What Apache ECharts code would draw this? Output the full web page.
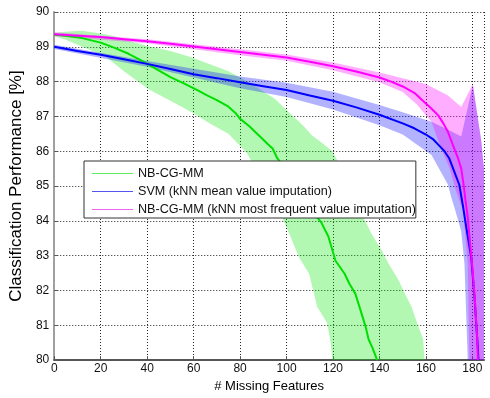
<!DOCTYPE html>
<html><head><meta charset="utf-8">
<script src="https://cdn.jsdelivr.net/npm/echarts@6/dist/echarts.min.js"></script>
<style>html,body{margin:0;padding:0;background:#fff}#c{width:490px;height:398px}</style>
</head><body><div id="c"></div>
<script>
// ---- data ----
var xTicks = [0, 20, 40, 60, 80, 100, 120, 140, 160, 180];
var yTicks = [80, 81, 82, 83, 84, 85, 86, 87, 88, 89, 90];
var seriesNames = ['NB-CG-MM', 'SVM (kNN mean value imputation)', 'NB-CG-MM (kNN most frequent value imputation)'];

var greenMean = [[0,89.35],[5,89.32],[12,89.25],[20,89.12],[26,88.97],[32,88.8],[38,88.59],[44,88.36],[50,88.13],[56,87.94],[62,87.74],[66,87.6],[70,87.47],[75,87.28],[78,87.1],[80,86.93],[84,86.72],[88,86.46],[92,86.2],[94,86.08],[96,85.8],[100,85.45],[105,84.95],[109,84.5],[112,84.2],[115,83.95],[118,83.55],[120,83.1],[121,82.86],[125,82.48],[127,82.2],[129.6,81.91],[132,81.4],[134,80.97],[135.3,80.6],[137,80.35],[139,80.0]];
var greenUpper = [[0,89.40],[6,89.44],[12,89.46],[20,89.38],[26,89.3],[33,89.15],[40,89.02],[50,88.88],[59,88.7],[67,88.5],[75,88.3],[81,88.08],[88,87.8],[95,87.5],[102.6,87.02],[107,86.75],[111,86.45],[116,86.2],[119.7,86.0],[123,85.6],[127,85.1],[131,84.66],[132.5,84.18],[136.8,83.6],[141,83.15],[144,82.76],[148.2,82.3],[151,81.9],[153.8,81.53],[156,81.1],[158.8,80.6],[159.4,80.0]];
var greenLower = [[0,89.30],[5,89.2],[12,89.0],[22,88.73],[30,88.3],[40.6,87.78],[50,87.45],[59,87.13],[67,86.8],[75,86.5],[83,85.94],[90,85.1],[97.6,84.18],[102,83.5],[105.4,82.95],[109.7,82.48],[113.2,81.53],[117.5,81.06],[119,80.5],[119.7,80.0]];

var blueMean = [[0,89.0],[10,88.88],[20,88.77],[30,88.64],[40,88.51],[50,88.36],[60,88.21],[70,88.1],[80,87.98],[90,87.87],[100,87.76],[110,87.6],[120,87.45],[130,87.26],[140,87.05],[150,86.8],[155,86.66],[160,86.48],[163,86.35],[166,86.14],[168,86.0],[170,85.8],[172,85.45],[174.4,85.03],[176,84.4],[177.4,83.8],[179.5,82.95],[180.9,81.82],[182.3,80.4],[182.6,80.0]];
var blueUpper = [[0,89.06],[40,88.59],[80,88.15],[100,87.97],[120,87.71],[140,87.33],[150,87.12],[162.4,86.85],[170,86.6],[175.2,86.42],[180.2,87.9],[183.8,86.3],[185,85.5],[185,80]];
var blueLower = [[0,88.94],[40,88.43],[80,87.81],[100,87.56],[120,87.2],[140,86.75],[150,86.48],[162.4,85.89],[169.5,85.04],[171,84.66],[172.3,84.38],[175.2,83.7],[176.6,82.75],[178,80.0]];

var pinkMean = [[0,89.36],[10,89.32],[20,89.28],[30,89.22],[40,89.16],[50,89.09],[60,89.01],[70,88.93],[80,88.85],[90,88.77],[100,88.69],[110,88.57],[120,88.44],[130,88.29],[140,88.12],[145,88.0],[150,87.86],[155,87.68],[159.5,87.4],[162,87.25],[165.3,87.03],[167.5,86.8],[169.5,86.55],[171.5,86.2],[173.8,85.8],[175.2,85.5],[176.3,85.0],[177,84.6],[178,84.1],[178.8,83.52],[180,82.65],[181,81.8],[182,80.7],[182.4,80.0]];
var pinkUpper = [[0,89.42],[40,89.22],[80,88.93],[100,88.78],[120,88.55],[140,88.26],[150,88.1],[160,87.93],[169.5,87.6],[175.2,87.27],[180.2,87.93],[183.8,86.3],[185,85.5],[185,80]];
var pinkLower = [[0,89.30],[40,89.10],[80,88.76],[100,88.6],[120,88.33],[140,87.98],[150,87.7],[156,87.35],[162.4,86.85],[166,86.17],[170.2,85.51],[173,84.85],[176,84.3],[178,82.76],[178.7,80]];

// ---- chart ----
var FONT = "'Liberation Sans', Arial, Helvetica, sans-serif";
var LEGEND_ICON = 'path://M0,0H40V1H0Z';
function band(upper, lower, fill) {
  return {
    type: 'custom', silent: true, clip: true, z: 1,
    data: [[upper[0][0], upper[0][1]]],
    renderItem: function (params, api) {
      var pts = [];
      upper.forEach(function (p) { pts.push(api.coord(p)); });
      lower.slice().reverse().forEach(function (p) { pts.push(api.coord(p)); });
      return { type: 'polygon', shape: { points: pts }, style: { fill: fill, stroke: null } };
    }
  };
}
function line(name, data, color) {
  return { type: 'line', name: name, data: data, showSymbol: false, symbol: 'none', z: 3,
    lineStyle: { color: color, width: 2 }, itemStyle: { color: color } };
}
var chart = echarts.init(document.getElementById('c'), null, { renderer: 'canvas' });
chart.setOption({
  animation: false,
  textStyle: { fontFamily: FONT },
  grid: { left: 50, top: 12, right: 6, bottom: 34 },
  xAxis: {
    type: 'value', min: 0, max: 185, interval: 20,
    name: '# Missing Features', nameLocation: 'middle', nameGap: 19,
    nameTextStyle: { fontSize: 13, color: '#000', fontFamily: FONT },
    axisLine: { onZero: false, lineStyle: { color: '#555', width: 2 } },
    axisTick: { inside: true, length: 4, lineStyle: { color: '#555' } },
    axisLabel: { margin: 3, fontSize: 12, color: '#111', fontFamily: FONT, showMaxLabel: false,
      formatter: function (v) { return xTicks.indexOf(v) >= 0 ? String(v) : ''; } },
    splitLine: { show: true, lineStyle: { color: '#222', type: [1, 2], width: 1 } }
  },
  yAxis: {
    type: 'value', min: yTicks[0], max: yTicks[yTicks.length - 1], interval: 1,
    name: 'Classification Performance [%]', nameLocation: 'middle', nameGap: 24, nameRotate: 90,
    nameTextStyle: { fontSize: 17, color: '#000', fontFamily: FONT },
    axisLine: { show: true, lineStyle: { color: '#a0a0a0', width: 2 } },
    axisTick: { show: true, inside: true, length: 4, lineStyle: { color: '#555' } },
    axisLabel: { margin: 5, fontSize: 12, color: '#111', fontFamily: FONT },
    splitLine: { show: true, lineStyle: { color: '#222', type: [1, 2], width: 1 } }
  },
  legend: {
    orient: 'vertical', left: 84, top: 161,
    padding: [6, 0, 2, 8], itemGap: 5, itemWidth: 41, itemHeight: 12,
    backgroundColor: '#fff', borderColor: '#333', borderWidth: 1,
    textStyle: { fontSize: 12.6, color: '#111', fontFamily: FONT },
    data: [
      { name: seriesNames[0], icon: LEGEND_ICON, itemStyle: { color: '#60ee60' } },
      { name: seriesNames[1], icon: LEGEND_ICON, itemStyle: { color: '#5555ee' } },
      { name: seriesNames[2], icon: LEGEND_ICON, itemStyle: { color: '#ee66ee' } }
    ]
  },
  series: [
    band(greenUpper, greenLower, 'rgba(0,230,0,0.3)'),
    band(blueUpper, blueLower, 'rgba(0,0,255,0.3)'),
    band(pinkUpper, pinkLower, 'rgba(255,0,255,0.32)'),
    line(seriesNames[0], greenMean, '#00e000'),
    line(seriesNames[1], blueMean, '#0000ff'),
    line(seriesNames[2], pinkMean, '#ff00ff')
  ]
});
</script>
</body></html>
